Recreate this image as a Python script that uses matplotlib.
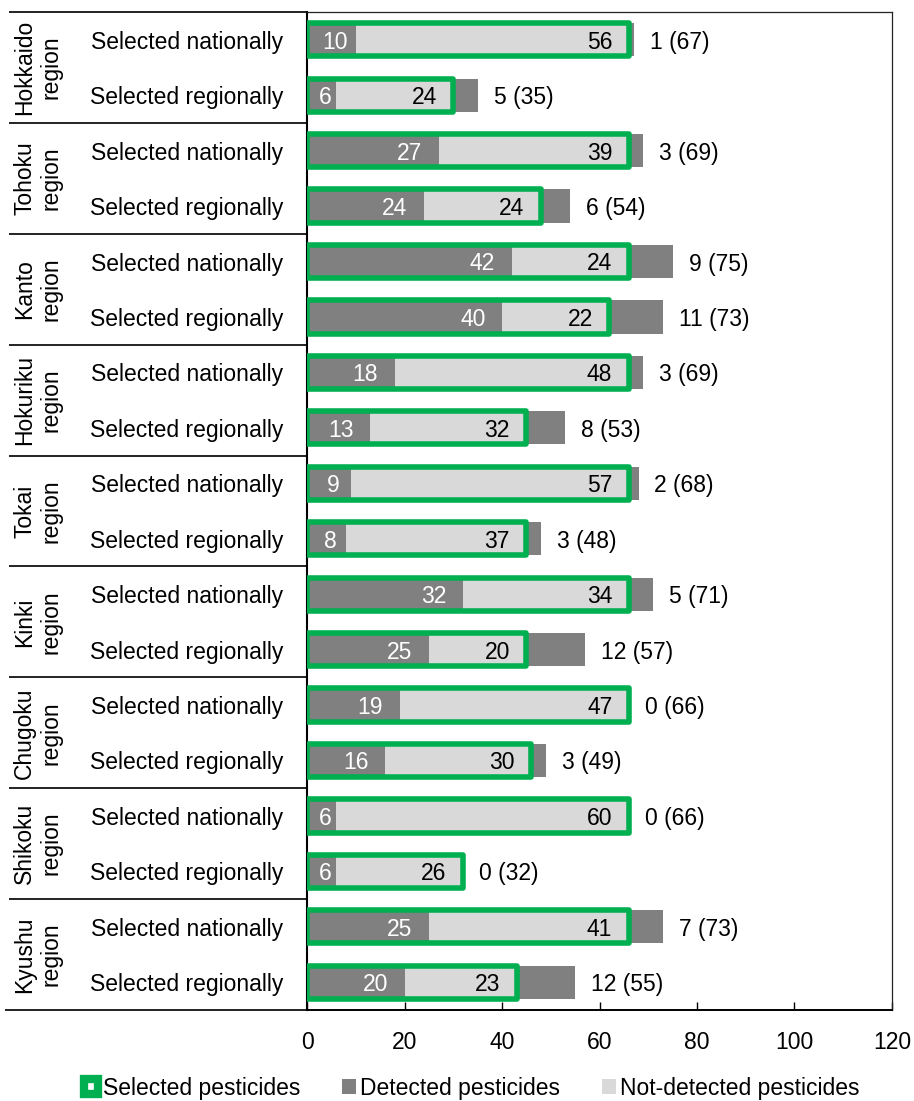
import matplotlib
matplotlib.use('Agg')
import matplotlib.pyplot as plt
from matplotlib.patches import Patch
from matplotlib.transforms import blended_transform_factory
import numpy as np

plt.rcParams['font.family'] = ['Liberation Sans', 'DejaVu Sans']

# ---------------- data ----------------
regions = ['Hokkaido', 'Tohoku', 'Kanto', 'Hokuriku', 'Tokai', 'Kinki',
           'Chugoku', 'Shikoku', 'Kyushu']
selection = ['Selected nationally', 'Selected regionally']
detected = [10, 6, 27, 24, 42, 40, 18, 13, 9, 8, 32, 25, 19, 16, 6, 6, 25, 20]
not_detected = [56, 24, 39, 24, 24, 22, 48, 32, 57, 37, 34, 20, 47, 30, 60, 26, 41, 23]
detected_other = [1, 5, 3, 6, 9, 11, 3, 8, 2, 3, 5, 12, 0, 3, 0, 0, 7, 12]
totals = [67, 35, 69, 54, 75, 73, 69, 53, 68, 48, 71, 57, 66, 49, 66, 32, 73, 55]
x_ticks = [0, 20, 40, 60, 80, 100, 120]
legend_labels = ['Selected pesticides', 'Detected pesticides', 'Not-detected pesticides']

# ---------------- style ----------------
DARK = '#808080'
LIGHT = '#D9D9D9'
GREEN = '#00B050'
FS = 16.5
W, H, DPI = 914, 1101, 100

fig = plt.figure(figsize=(W / DPI, H / DPI), dpi=DPI)
ax_left, ax_right, ax_top, ax_bottom = 307, 892, 12, 1010
ax = fig.add_axes([ax_left / W, 1 - ax_bottom / H,
                   (ax_right - ax_left) / W, (ax_bottom - ax_top) / H])

n = len(detected)
y = np.arange(n)
det = np.array(detected)
nd = np.array(not_detected)
oth = np.array(detected_other)
sel = det + nd
bh = 0.6

ax.barh(y, det, height=bh, color=DARK, zorder=2)
ax.barh(y, nd, left=det, height=bh, color=LIGHT, zorder=2)
ax.barh(y, oth, left=sel, height=bh, color=DARK, zorder=2)
outline = ax.barh(y, sel, height=bh, fill=False, edgecolor=GREEN, linewidth=4.0,
                  zorder=3)
for p in outline:
    p.set_joinstyle('round')

ax.set_xlim(x_ticks[0], x_ticks[-1])
ax.set_ylim(n - 0.5, -0.5)
ax.set_xticks(x_ticks)
ax.set_xticklabels([str(t) for t in x_ticks], fontsize=FS)
ax.tick_params(axis='x', direction='in', length=6, width=1, pad=15)
ax.set_yticks([])

for s in ['top', 'right']:
    ax.spines[s].set_linewidth(0.9)
    ax.spines[s].set_color('#222222')
ax.spines['left'].set_linewidth(1.5)
ax.spines['bottom'].set_linewidth(1.4)

# pixel -> data conversion for label padding
px_per_unit = (ax_right - ax_left) / (x_ticks[-1] - x_ticks[0])
pad = 16.5 / px_per_unit
digit_w = 0.556 * FS * DPI / 72 / px_per_unit

VA = 'center_baseline'
for i in range(n):
    txt = str(detected[i])
    tw = len(txt) * digit_w
    if det[i] >= tw + 2 * pad:
        ax.text(det[i] - pad, y[i], txt, ha='right', va=VA, color='white',
                fontsize=FS, zorder=4)
    else:
        ax.text(det[i] / 2 + 0.8, y[i], txt, ha='center', va=VA, color='white',
                fontsize=FS, zorder=4)
    ax.text(sel[i] - pad, y[i], str(not_detected[i]), ha='right', va=VA,
            color='black', fontsize=FS, zorder=4)
    ax.annotate(f'{detected_other[i]} ({totals[i]})', xy=(totals[i], y[i]),
                xytext=(11.5, 0), textcoords='offset points', ha='left', va=VA,
                fontsize=FS, color='black')

# left-side table
bt = blended_transform_factory(fig.transFigure, ax.transData)
for k, reg in enumerate(regions):
    yc = 2 * k + 0.5
    fig.text(38 / W, yc, f'{reg}\nregion', transform=bt, rotation=90,
             ha='center', va='center', multialignment='center', fontsize=FS,
             linespacing=1.2)
for i in range(n):
    fig.text(187 / W, y[i], selection[i % 2], transform=bt, ha='center',
             va=VA, fontsize=FS)

x0 = 9 / W
x1 = ax_left / W
for k in range(len(regions) + 1):
    yb = 2 * k - 0.5
    xs = 5 / W if k == len(regions) else x0
    ax.plot([xs, x1], [yb, yb], transform=bt, color='#222222', lw=1.4,
            clip_on=False, solid_capstyle='butt')

# legend
handles = [Patch(facecolor='white', edgecolor=GREEN, linewidth=6.0),
           Patch(facecolor=DARK, edgecolor='none'),
           Patch(facecolor=LIGHT, edgecolor='none')]
fig.legend(handles, legend_labels, loc='center', bbox_to_anchor=(472 / W, 1 - 1088 / H),
           ncol=3, frameon=False, fontsize=FS, handlelength=0.62, handleheight=0.62,
           handletextpad=0.2, columnspacing=1.8, borderpad=0)

fig.savefig('out.png', dpi=DPI)
